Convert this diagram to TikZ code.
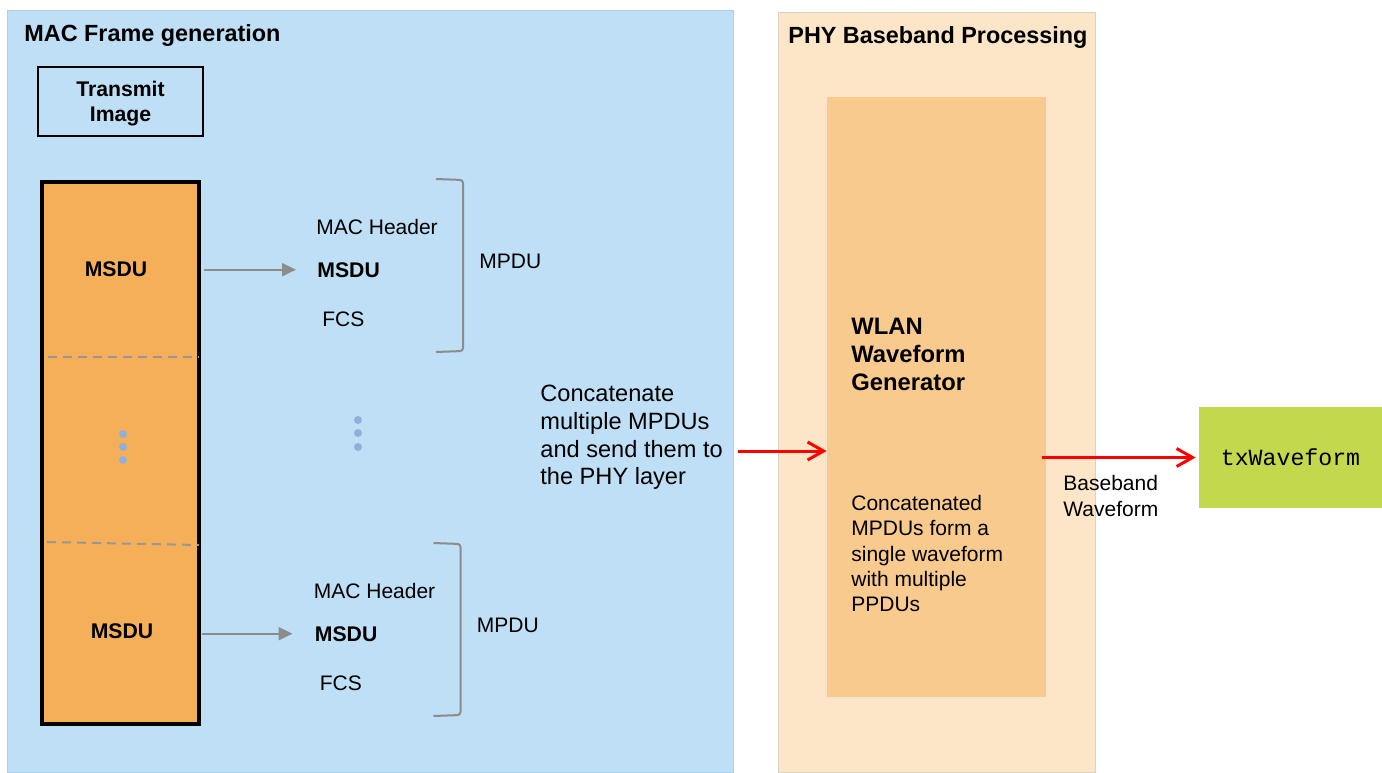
\documentclass[tikz,border=0pt]{standalone}
\usepackage{fontspec}
\setmainfont{Liberation Sans}
\newfontfamily\wavefont{Liberation Mono}
\usetikzlibrary{arrows.meta}
\definecolor{macblue}{HTML}{BEDFF5}
\definecolor{macedge}{HTML}{A9D0EC}
\definecolor{phytan}{HTML}{FDE5C8}
\definecolor{phyedge}{HTML}{D8D2C0}
\definecolor{genorange}{HTML}{F9CA8E}
\definecolor{msduorange}{HTML}{F5AF58}
\definecolor{txgreen}{HTML}{C3D84C}
\definecolor{dotblue}{HTML}{8FB0DA}
\definecolor{arrowgray}{HTML}{8C8C8C}
\definecolor{sepgray}{HTML}{979797}
\newcommand\bodyfont{\fontsize{10.5}{12.5}\selectfont}
\newcommand\titlefont{\bfseries\fontsize{11.7}{14}\selectfont}
\newcommand\boldfont{\bfseries\fontsize{10.6}{12.5}\selectfont}
\newcommand\concatfont{\fontsize{11.8}{13.8}\selectfont}
\newcommand\wlanfont{\bfseries\fontsize{11.9}{14}\selectfont}
\newcommand\notefont{\fontsize{10.5}{12.6}\selectfont}
\newcommand\bbfont{\fontsize{10.5}{13}\selectfont}
\begin{document}
\begin{tikzpicture}[x=.5pt,y=-.5pt,line join=miter,font=\bodyfont]
    \tikzset{txt/.style={inner sep=0pt,anchor=base west},
        para/.style={inner sep=0pt,anchor=north west,align=left},
        msdubox/.style={draw=black,line width=2pt,fill=msduorange,minimum width=78.5pt,minimum height=271pt},
        grayarr/.style={draw=arrowgray,line width=1pt,-{Triangle[length=7pt,width=6.5pt]}},
        redarr/.style={draw=red,line width=1.5pt,-{Straight Barb[length=8pt,width=9pt]}},
        sepline/.style={draw=sepgray,line width=1pt,dash pattern=on 4.5pt off 3pt},
        bracket/.style={draw=arrowgray,line width=1pt,rounded corners=1.5pt},
        dot/.style={fill=dotblue,circle,inner sep=0pt,minimum size=4pt}
    }
    \useasboundingbox (0,0) rectangle (1382,772);
    % panels
    \filldraw[fill=macblue,draw=macedge,line width=.5pt] (7,10) rectangle (733,772);
    \filldraw[fill=phytan,draw=phyedge,line width=.5pt] (778,12) rectangle (1095,772);
    \node[txt,font=\titlefont] (mactitle) at (24,41) {MAC Frame generation};
    \node[txt,font=\titlefont] (phytitle) at (788,43) {PHY Baseband Processing};
    % image and its MSDUs
    \node[draw,line width=.7pt,minimum width=82.5pt,minimum height=34.5pt,inner sep=0pt,text depth=0pt,
        align=center,font=\boldfont] (tximage) at (120.5,101.5) {Transmit\\Image};
    \node[msdubox] (msdubox) at (120.5,453) {};
    \node[inner sep=0pt,font=\boldfont] (msduA) at (116,269) {MSDU};
    \node[inner sep=0pt,font=\boldfont] (msduB) at (122,631) {MSDU};
    \draw[sepline] (48,357) -- (199,357);
    \draw[sepline] (47,542) -- (199,545);
    \foreach \y in {434,447,460}
        \node[dot] at (123,\y) {};
    % MPDUs
    \foreach \g/\dx/\dy in {A/0/0,B/-2.5/364}{
        \begin{scope}[shift={(\dx,\dy)}]
            \node[txt] (hdr\g) at (316,234) {MAC Header};
            \node[txt,font=\boldfont] (m\g) at (317,277) {MSDU};
            \node[txt] (fcs\g) at (322,326) {FCS};
            \draw[bracket] (436,179) -- (463,180) -- (463,351) -- (436,352);
            \node[txt] (mpdu\g) at (479,268) {MPDU};
        \end{scope}
    }
    \draw[grayarr,shorten <=1.5pt,shorten >=10.5pt] (msdubox.east |- mA.west) -- (mA.west);
    \draw[grayarr,shorten <=.5pt,shorten >=11pt] (msdubox.east |- mB.west) -- (mB.west);
    \foreach \y in {420,433,447}
        \node[dot] at (358,\y) {};
    \node[para,font=\concatfont] (concat) at (540,385)
        {Concatenate\\multiple MPDUs\\and send them to\\the PHY layer};
    % PHY
    \node[fill=genorange,minimum width=109.5pt,minimum height=300pt,inner sep=0pt] (gen) at (936.5,397) {};
    \node[para,font=\wlanfont] (wlan) at (851,318) {WLAN\\Waveform\\Generator};
    \node[para,font=\notefont] (note) at (851,495)
        {Concatenated\\MPDUs form a\\single waveform\\with multiple\\PPDUs};
    \node[fill=txgreen,minimum width=91.5pt,minimum height=50.5pt,inner sep=0pt,
        font=\wavefont\fontsize{11.6}{14}\selectfont] (tx) at (1290.5,457.5) {txWaveform\hspace{3pt}};
    \node[para,font=\bbfont] (bbwave) at (1063,475) {Baseband\\Waveform};
    \coordinate (inarr) at (738,451);
    \draw[redarr] (inarr) -- (inarr -| gen.west);
    \draw[redarr] ([xshift=-2pt]gen.east |- tx.west) -- ([xshift=-1.5pt]tx.west);
\end{tikzpicture}
\end{document}
